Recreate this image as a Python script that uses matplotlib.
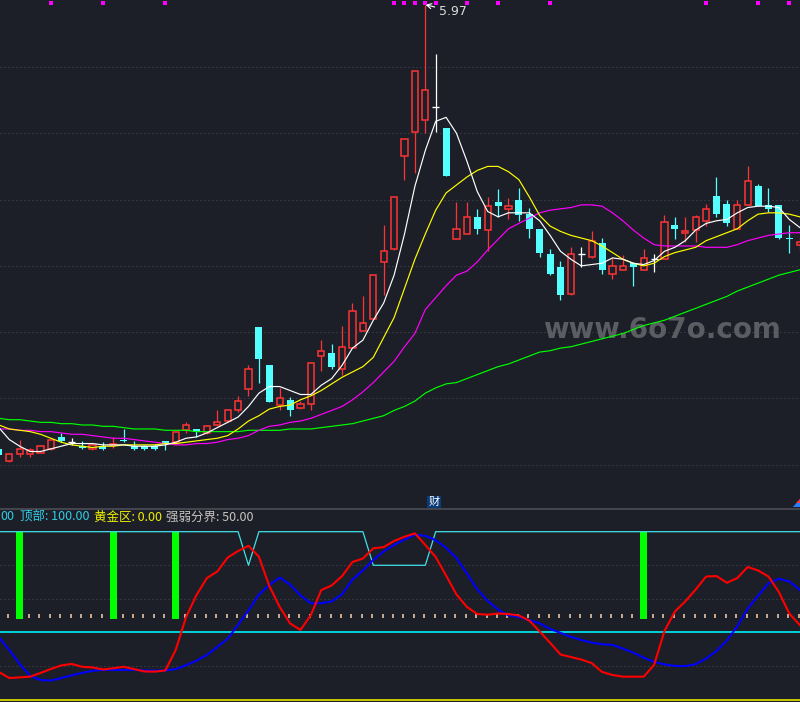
import matplotlib
matplotlib.use("Agg")
import matplotlib.pyplot as plt
from matplotlib.patches import Rectangle, Polygon
import numpy as np

plt.rcParams['font.family'] = ['Noto Sans CJK SC', 'DejaVu Sans']

BG = "#1c1f27"
RED = "#ff3333"
CYAN = "#54ffff"
GRID = "#4a4d55"

# daily candles
opens = [2.62, 2.53, 2.58, 2.58, 2.59, 2.62, 2.71, 2.67, 2.64, 2.62,
         2.64, 2.65, 2.69, 2.64, 2.64, 2.64, 2.68, 2.67, 2.76, 2.77,
         2.74, 2.80, 2.83, 2.91, 3.07, 3.54, 3.25, 2.95, 2.99, 2.93,
         2.96, 3.32, 3.34, 3.22, 3.38, 3.51, 3.60, 4.03, 4.13, 4.83,
         5.01, 5.10, 5.20, 5.04, 4.20, 4.24, 4.37, 4.27, 4.48, 4.43,
         4.50, 4.39, 4.28, 4.09, 3.99, 3.79, 4.09, 4.07, 4.17, 3.94,
         3.97, 4.02, 3.97, 4.05, 4.05, 4.31, 4.25, 4.27, 4.34, 4.53,
         4.47, 4.28, 4.46, 4.60, 4.46, 4.46, 4.21, 4.16]
highs = [2.63, 2.59, 2.69, 2.63, 2.65, 2.69, 2.74, 2.70, 2.68, 2.66,
         2.67, 2.71, 2.77, 2.68, 2.65, 2.66, 2.68, 2.75, 2.82, 2.77,
         2.80, 2.91, 2.91, 3.02, 3.25, 3.54, 3.25, 3.08, 3.01, 2.98,
         3.27, 3.44, 3.41, 3.55, 3.72, 3.77, 3.93, 4.31, 4.52, 4.96,
         5.47, 5.97, 5.60, 5.04, 4.48, 4.48, 4.43, 4.52, 4.58, 4.51,
         4.59, 4.44, 4.28, 4.13, 4.04, 4.14, 4.14, 4.26, 4.21, 4.06,
         4.08, 4.02, 4.13, 4.09, 4.38, 4.37, 4.37, 4.38, 4.47, 4.67,
         4.50, 4.50, 4.75, 4.62, 4.59, 4.46, 4.31, 4.21]
lows = [2.57, 2.52, 2.56, 2.56, 2.59, 2.61, 2.67, 2.65, 2.62, 2.61,
        2.61, 2.63, 2.67, 2.61, 2.61, 2.61, 2.61, 2.66, 2.74, 2.71,
        2.73, 2.79, 2.82, 2.90, 3.02, 3.12, 2.97, 2.91, 2.87, 2.92,
        2.91, 3.21, 3.22, 3.18, 3.38, 3.51, 3.60, 3.78, 4.12, 4.65,
        4.70, 5.00, 5.01, 4.68, 4.20, 4.24, 4.24, 4.11, 4.37, 4.35,
        4.34, 4.21, 4.07, 3.93, 3.74, 3.78, 3.99, 4.06, 3.94, 3.90,
        3.97, 3.85, 3.97, 3.95, 4.05, 4.20, 4.18, 4.18, 4.30, 4.37,
        4.30, 4.28, 4.46, 4.45, 4.41, 4.20, 4.10, 4.12]
closes = [2.57, 2.58, 2.62, 2.61, 2.64, 2.69, 2.68, 2.67, 2.63, 2.65,
          2.62, 2.66, 2.68, 2.62, 2.62, 2.62, 2.66, 2.75, 2.80, 2.75,
          2.79, 2.82, 2.91, 2.98, 3.22, 3.30, 2.97, 3.00, 2.91, 2.96,
          3.27, 3.36, 3.24, 3.39, 3.66, 3.57, 3.93, 4.11, 4.52, 4.96,
          5.47, 5.33, 5.20, 4.68, 4.28, 4.37, 4.28, 4.45, 4.45, 4.45,
          4.38, 4.28, 4.10, 3.94, 3.78, 4.09, 4.09, 4.19, 3.97, 4.00,
          4.00, 3.99, 4.06, 4.05, 4.33, 4.28, 4.26, 4.37, 4.43, 4.39,
          4.32, 4.46, 4.64, 4.45, 4.43, 4.21, 4.20, 4.18]

# moving averages
ma5 = [2.78, 2.69, 2.64, 2.60, 2.60, 2.62, 2.64, 2.66, 2.66, 2.66,
       2.65, 2.65, 2.65, 2.64, 2.64, 2.64, 2.65, 2.67, 2.70, 2.71,
       2.74, 2.78, 2.82, 2.86, 2.94, 3.04, 3.09, 3.09, 3.06, 3.03,
       3.03, 3.10, 3.15, 3.25, 3.38, 3.44, 3.59, 3.72, 3.93, 4.24,
       4.60, 4.87, 5.09, 5.12, 5.00, 4.79, 4.56, 4.41, 4.37, 4.40,
       4.40, 4.40, 4.34, 4.23, 4.11, 4.05, 4.00, 4.01, 4.02, 4.06,
       4.05, 4.02, 4.01, 4.04, 4.11, 4.14, 4.19, 4.27, 4.32, 4.34,
       4.35, 4.40, 4.44, 4.45, 4.45, 4.44, 4.35, 4.29]
ma10 = [2.80, 2.77, 2.76, 2.75, 2.73, 2.70, 2.67, 2.65, 2.64, 2.63,
        2.64, 2.64, 2.65, 2.65, 2.65, 2.65, 2.66, 2.66, 2.67, 2.68,
        2.69, 2.70, 2.72, 2.77, 2.83, 2.87, 2.92, 2.94, 2.95, 2.99,
        3.02, 3.06, 3.11, 3.16, 3.20, 3.24, 3.31, 3.46, 3.61, 3.83,
        4.05, 4.24, 4.42, 4.55, 4.61, 4.67, 4.72, 4.75, 4.75, 4.71,
        4.65, 4.52, 4.38, 4.30, 4.26, 4.23, 4.21, 4.19, 4.15, 4.10,
        4.05, 4.02, 4.00, 4.02, 4.07, 4.10, 4.12, 4.14, 4.19, 4.22,
        4.25, 4.28, 4.34, 4.39, 4.40, 4.40, 4.39, 4.37]
ma20 = [2.77, 2.77, 2.76, 2.76, 2.75, 2.75, 2.74, 2.73, 2.73, 2.72,
        2.71, 2.70, 2.70, 2.69, 2.68, 2.67, 2.66, 2.65, 2.65, 2.66,
        2.66, 2.67, 2.69, 2.70, 2.72, 2.76, 2.79, 2.80, 2.82, 2.83,
        2.85, 2.88, 2.91, 2.94, 2.99, 3.05, 3.12, 3.20, 3.28, 3.39,
        3.49, 3.67, 3.76, 3.85, 3.93, 3.96, 4.03, 4.12, 4.20, 4.28,
        4.32, 4.36, 4.40, 4.42, 4.43, 4.44, 4.46, 4.46, 4.45, 4.40,
        4.34, 4.27, 4.21, 4.16, 4.15, 4.15, 4.15, 4.15, 4.14, 4.14,
        4.14, 4.16, 4.19, 4.21, 4.23, 4.24, 4.25, 4.25]
ma60 = [2.85, 2.84, 2.84, 2.83, 2.82, 2.82, 2.81, 2.81, 2.80, 2.80,
        2.79, 2.79, 2.78, 2.77, 2.77, 2.77, 2.76, 2.76, 2.76, 2.75,
        2.75, 2.75, 2.75, 2.75, 2.76, 2.76, 2.76, 2.76, 2.77, 2.77,
        2.77, 2.78, 2.79, 2.80, 2.81, 2.83, 2.85, 2.87, 2.91, 2.94,
        2.98, 3.04, 3.08, 3.11, 3.12, 3.15, 3.18, 3.21, 3.24, 3.26,
        3.29, 3.32, 3.35, 3.36, 3.38, 3.39, 3.41, 3.43, 3.45, 3.47,
        3.49, 3.52, 3.55, 3.57, 3.59, 3.62, 3.65, 3.68, 3.71, 3.74,
        3.77, 3.81, 3.84, 3.87, 3.90, 3.93, 3.95, 3.97]

# signal markers at the top of the price panel
top_marks = [5, 10, 16, 38, 39, 40, 41, 42, 45, 48, 53, 68, 73, 76]
grid_prices = [2.5, 3.0, 3.5, 4.0, 4.5, 5.0, 5.5]

# indicator panel
red_line = [16.5, 12.9, 13.3, 13.7, 15.9, 18.3, 20.4, 21.3, 19.6, 19.2,
            18.0, 18.7, 19.6, 18.2, 16.8, 16.7, 17.4, 29.6, 49.2, 62.3,
            72.4, 76.3, 84.6, 88.5, 91.6, 85.1, 67.7, 55.2, 45.4, 41.5,
            50.4, 65.3, 68.0, 73.6, 82.0, 84.0, 90.1, 90.8, 94.5, 97.0,
            99.0, 92.1, 84.9, 73.9, 62.6, 55.2, 51.0, 50.6, 51.3, 51.0,
            50.1, 47.1, 40.6, 33.9, 26.9, 25.4, 23.9, 21.8, 16.5, 14.7,
            13.7, 13.7, 13.7, 20.7, 40.9, 52.5, 58.5, 65.6, 73.3, 73.6,
            69.6, 72.4, 79.0, 76.9, 73.3, 64.1, 51.3, 44.5]
blue_line = [37.3, 29.5, 21.3, 14.2, 11.7, 11.4, 12.9, 14.5, 16.0, 17.2,
             17.7, 17.7, 17.7, 17.7, 17.4, 17.3, 17.4, 18.2, 20.5, 23.2,
             26.6, 31.4, 36.3, 44.6, 53.2, 62.6, 68.3, 72.7, 68.5, 62.0,
             57.4, 57.4, 58.5, 62.8, 71.5, 77.0, 83.2, 88.2, 92.1, 95.3,
             98.1, 97.6, 94.9, 90.4, 84.3, 75.1, 65.7, 58.8, 53.6, 50.2,
             49.2, 47.4, 45.4, 42.1, 39.8, 37.4, 35.5, 34.0, 33.0, 32.6,
             30.4, 28.0, 25.0, 22.5, 21.0, 20.1, 20.0, 21.1, 24.5, 29.0,
             35.2, 43.7, 54.2, 61.9, 69.2, 72.0, 70.4, 65.4]
top_line = [100, 100, 100, 100, 100, 100, 100, 100, 100, 100,
            100, 100, 100, 100, 100, 100, 100, 100, 100, 100,
            100, 100, 100, 100, 80, 100, 100, 100, 100, 100,
            100, 100, 100, 100, 100, 100, 80, 80, 80, 80,
            80, 80, 100, 100, 100, 100, 100, 100, 100, 100,
            100, 100, 100, 100, 100, 100, 100, 100, 100, 100,
            100, 100, 100, 100, 100, 100, 100, 100, 100, 100,
            100, 100, 100, 100, 100, 100, 100, 100]
signal_bars = [2, 11, 17, 62]
bar_low = 48
top_level = 100
gold_level = 0
mid_level = 50
bottom_level = 40
ind_grid = [20, 60, 80]

n = len(opens)
idx = np.arange(n)

fig = plt.figure(figsize=(8.0, 7.02), dpi=100, facecolor=BG)
ax = fig.add_axes([0, 1 - 508 / 702, 1, 508 / 702], facecolor=BG)
ax2 = fig.add_axes([0, 0, 1, 193 / 702], facecolor=BG)

for a in (ax, ax2):
    a.set_xlim(0.106, 77.03)
    a.set_xticks([])
    a.set_yticks([])
    for s in a.spines.values():
        s.set_visible(False)
ax2.spines['top'].set_visible(True)
ax2.spines['top'].set_color("#4a4d55")
ax2.spines['top'].set_linewidth(1.2)

ax.set_ylim(2.174, 6.005)
ax2.set_ylim(-1.37, 113.5)

# price grid
for p in grid_prices:
    ax.axhline(p, color=GRID, lw=0.72, ls=(0, (1, 3)), zorder=0)

# candles
for i in range(n):
    o, h, l, c = opens[i], highs[i], lows[i], closes[i]
    if c > o:
        ax.vlines(i, c, h, color=RED, lw=0.9, zorder=2)
        ax.vlines(i, l, o, color=RED, lw=0.9, zorder=2)
        ax.add_patch(Rectangle((i - 0.29, o), 0.58, c - o, facecolor=BG,
                               edgecolor=RED, lw=1.1, zorder=2))
    elif c < o:
        ax.vlines(i, l, h, color=CYAN, lw=0.9, zorder=2)
        ax.add_patch(Rectangle((i - 0.33, c), 0.66, o - c, facecolor=CYAN,
                               edgecolor='none', zorder=2))
    else:
        ax.vlines(i, l, h, color='white', lw=0.9, zorder=2)
        ax.hlines(o, i - 0.33, i + 0.33, color='white', lw=1.0, zorder=2)

ax.plot(idx, ma60, color="#00ff00", lw=0.85, zorder=3)
ax.plot(idx, ma20, color="#ff00ff", lw=0.85, zorder=3)
ax.plot(idx, ma10, color="#ffff00", lw=0.85, zorder=3)
ax.plot(idx, ma5, color="white", lw=0.85, zorder=3)

ax.scatter(top_marks, [5.98] * len(top_marks), marker='s', s=6,
           color="#ff00ff", linewidths=0, zorder=4)

hi = int(np.argmax(highs))
ax.annotate(f"{highs[hi]:.2f}", xy=(hi, highs[hi]), xytext=(hi + 1.3, 5.918),
            color="#dcdcdc", fontsize=9, family='DejaVu Sans',
            ha='left', va='center',
            arrowprops=dict(arrowstyle='->', color='white', lw=0.8,
                            shrinkA=1, shrinkB=0))

ax.text(543 / 800, 1 - 330 / 508, "www.6o7o.com", transform=ax.transAxes,
        color="#5b5d63", fontsize=20, fontweight='bold', family='DejaVu Sans',
        ha='left', va='center', zorder=1)

# indicator panel
for g in ind_grid:
    ax2.axhline(g, color=GRID, lw=0.72, ls=(0, (1, 3)), zorder=0)
ax2.axhline(gold_level, color="#e6e600", lw=1.2, zorder=1)
ax2.axhline(bottom_level, color="#00e0e8", lw=1.3, zorder=1)
ax2.plot(idx - 0.1, [mid_level] * n, ls='none', marker='|', ms=3, mew=1.2,
         color="#e8c4a8", zorder=1)
ax2.bar(signal_bars, top_level - bar_low, bottom=bar_low, width=0.65,
        color="#00ff00", zorder=2)
ax2.plot(idx, top_line, color="#40e0e8", lw=0.9, zorder=3)
ax2.plot(idx, blue_line, color="#0000ff", lw=1.5, zorder=4)
ax2.plot(idx, red_line, color="#ff0000", lw=1.5, zorder=5)

ty = 1 - 517 / 702
fig.text(0 / 800, ty, "00", color="#30cce8", fontsize=9, va='center')
fig.text(20 / 800, ty, f"顶部: {top_level:.2f}", color="#30cce8", fontsize=9, va='center')
fig.text(94 / 800, ty, f"黄金区: {gold_level:.2f}", color="#f0f000", fontsize=9, va='center')
fig.text(166 / 800, ty, f"强弱分界: {mid_level:.2f}", color="#c8c4c0", fontsize=9, va='center')

fig.text(434 / 800, 1 - 502 / 702, "财", color="white", fontsize=8,
         ha='center', va='center',
         bbox=dict(boxstyle='square,pad=0.12', fc="#0b3a78", ec='none'))

fig.add_artist(Polygon([[793 / 800, 1 - 507 / 702], [800 / 800, 1 - 507 / 702],
                        [800 / 800, 1 - 499 / 702]], closed=True,
                       transform=fig.transFigure, fc="#2a7fff", ec='none'))
fig.add_artist(Polygon([[796 / 800, 1 - 503 / 702], [800 / 800, 1 - 499 / 702],
                        [800 / 800, 1 - 503 / 702]], closed=True,
                       transform=fig.transFigure, fc="#ff3333", ec='none'))

fig.savefig("out.png", dpi=100, facecolor=BG)
